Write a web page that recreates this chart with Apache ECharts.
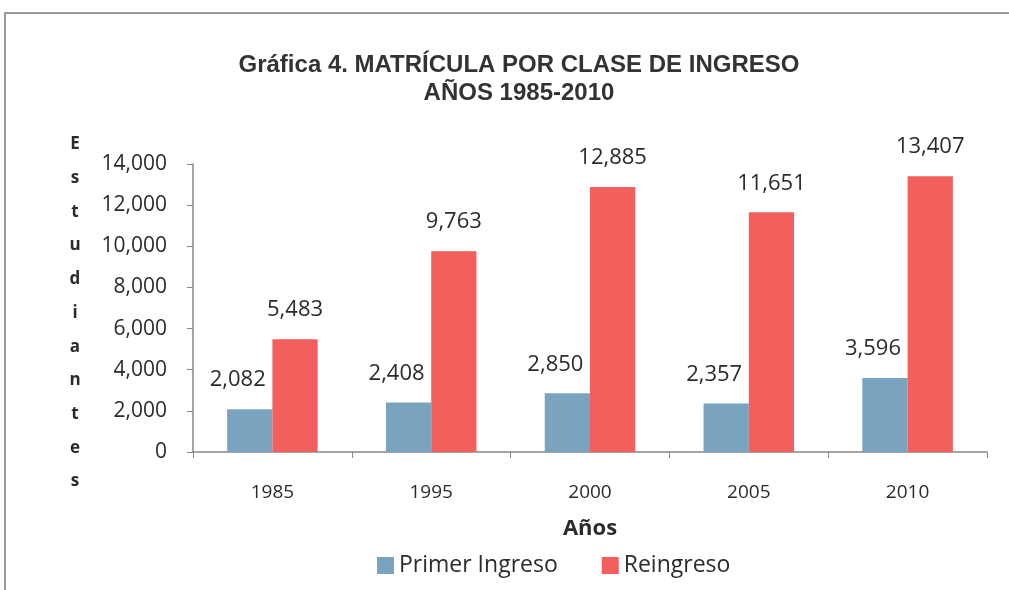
<!DOCTYPE html>
<html>
<head>
<meta charset="utf-8">
<script src="https://cdn.jsdelivr.net/npm/echarts@6/dist/echarts.min.js"></script>
<style>html,body{margin:0;padding:0;background:#fff}#c{width:1009px;height:590px}</style>
</head>
<body>
<div id="c"></div>
<script>
const categories = ['1985', '1995', '2000', '2005', '2010'];
const primerIngreso = [2082, 2408, 2850, 2357, 3596];
const reingreso = [5483, 9763, 12885, 11651, 13407];
const seriesNames = ['Primer Ingreso', 'Reingreso'];
const yAxisName = 'Estudiantes';
const xAxisName = 'Años';
const titleText = 'Gráfica 4. MATRÍCULA POR CLASE DE INGRESO\nAÑOS 1985-2010';

const chart = echarts.init(document.getElementById('c'));
const fmt = v => v.toLocaleString('en-US');
const labelFont = {fontFamily: 'Open Sans', fontSize: 22, color: '#2b2b2b'};

chart.setOption({
  backgroundColor: '#fff',
  animation: false,
  title: {
    text: titleText,
    left: 514, top: 46, textAlign: 'center',
    textStyle: {fontFamily: 'Liberation Sans', fontWeight: 'bold', fontSize: 24, color: '#333', lineHeight: 28}
  },
  graphic: [
    {type: 'rect', shape: {x: 5, y: 13, width: 1010, height: 600}, style: {fill: 'none', stroke: '#9a9a9a', lineWidth: 2}, silent: true},
    {type: 'text', x: 75, y: 313, style: {text: yAxisName.split('').join('\n'), align: 'center', verticalAlign: 'middle', lineHeight: 33.7, fontFamily: 'Open Sans', fontWeight: 'bold', fontSize: 17, fill: '#2b2b2b'}}
  ],
  legend: {
    data: seriesNames,
    left: 372, top: 549,
    itemWidth: 17, itemHeight: 17, itemGap: 44,
    icon: 'rect',
    textStyle: {fontFamily: 'Open Sans', fontSize: 23, color: '#2b2b2b', padding: [0, 0, 0, 0]}
  },
  grid: {left: 193, right: 22, top: 164, bottom: 138, containLabel: false},
  xAxis: {
    type: 'category',
    data: categories,
    name: xAxisName,
    nameLocation: 'middle',
    nameGap: 66,
    nameTextStyle: {fontFamily: 'Open Sans', fontWeight: 'bold', fontSize: 22, color: '#2b2b2b'},
    axisLine: {lineStyle: {color: '#888', width: 1.5}},
    axisTick: {show: true, length: 6, lineStyle: {color: '#888'}},
    axisLabel: {margin: 31, fontFamily: 'Open Sans', fontSize: 19, color: '#2b2b2b'}
  },
  yAxis: {
    type: 'value',
    min: 0, max: 14000, interval: 2000,
    axisLine: {show: true, lineStyle: {color: '#888', width: 1.5}},
    axisTick: {show: true, length: 6, lineStyle: {color: '#888'}},
    splitLine: {show: false},
    axisLabel: {margin: 26, fontFamily: 'Open Sans', fontSize: 21, color: '#2b2b2b', formatter: v => fmt(v)}
  },
  series: [
    {
      name: seriesNames[0], type: 'bar', data: primerIngreso,
      barGap: '0%', barCategoryGap: '43%',
      itemStyle: {color: '#7aa3bf'},
      label: {show: true, position: 'top', distance: 18, offset: [-12, 0], formatter: p => fmt(p.value), ...labelFont}
    },
    {
      name: seriesNames[1], type: 'bar', data: reingreso,
      barGap: '0%', barCategoryGap: '43%',
      itemStyle: {color: '#f25f5c'},
      label: {show: true, position: 'top', distance: 18, formatter: p => fmt(p.value), ...labelFont}
    }
  ]
});
</script>
</body>
</html>
